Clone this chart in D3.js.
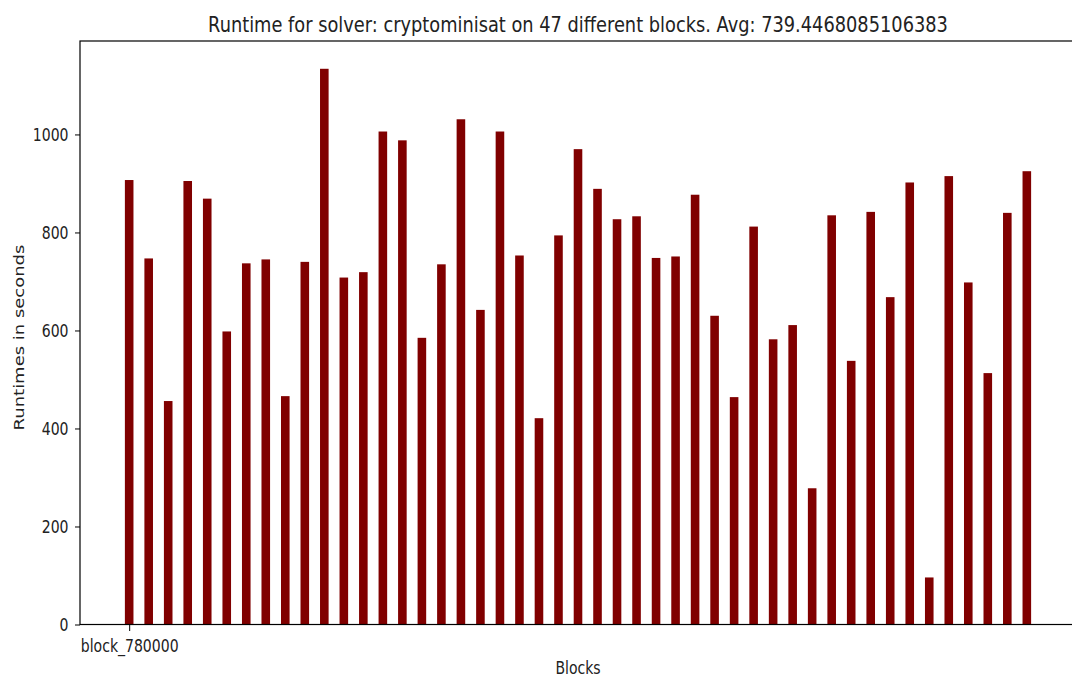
<!DOCTYPE html>
<html>
<head>
<meta charset="utf-8">
<script src="https://cdn.jsdelivr.net/npm/d3@7"></script>
<style>
  html, body { margin: 0; padding: 0; background: #fff; }
  svg { display: block; font-family: "DejaVu Sans", sans-serif; }
</style>
</head>
<body>
<svg id="chart" width="1072" height="677"></svg>
<script>
const titleText = "Runtime for solver: cryptominisat on 47 different blocks. Avg: 739.4468085106383";
const xLabel = "Blocks";
const yLabel = "Runtimes in seconds";
const tickLabels = ["block_780000"];
const tickIndices = [0];
const yTicks = [0, 200, 400, 600, 800, 1000];
const runtimes = [
  907, 747, 456, 905, 869, 598, 737, 745, 466, 740,
  1134, 708, 719, 1006, 988, 585, 735, 1031, 642, 1006,
  753, 421, 794, 970, 889, 827, 833, 748, 751, 877,
  630, 464, 812, 582, 611, 278, 835, 538, 842, 668,
  902, 96, 915, 698, 513, 840, 925
];
const indices = runtimes.map((d, i) => i);

const svg = d3.select("#chart");
const mLeft = 80, mRight = 1076, mTop = 41, mBottom = 624.5;
const sx = 0.78;          // horizontal squeeze of glyphs
const fs = 18;            // label/tick font size
const barW = 0.44;
const n = runtimes.length;
const pad = 0.05 * ((n - 1) + 0.4);
const x = d3.scaleLinear()
  .domain([-0.2 - pad, (n - 1) + 0.2 + pad])
  .range([mLeft, mRight]);
const yMax = d3.max(runtimes) * 1.05;
const y = d3.scaleLinear().domain([0, yMax]).range([mBottom, mTop]);

// bars
svg.append("g").selectAll("rect").data(indices).join("rect")
  .attr("x", i => x(i - barW / 2))
  .attr("width", i => x(i + barW / 2) - x(i - barW / 2))
  .attr("y", i => y(runtimes[i]))
  .attr("height", i => y(0) - y(runtimes[i]))
  .attr("fill", "#800000");

// frame
svg.append("rect")
  .attr("x", mLeft).attr("y", mTop)
  .attr("width", mRight - mLeft).attr("height", mBottom - mTop)
  .attr("fill", "none").attr("stroke", "#000").attr("stroke-width", 1.2);

// y axis
const yAxis = d3.axisLeft(y).tickValues(yTicks).tickSize(5).tickFormat(d3.format("d"));
const gy = svg.append("g").attr("transform", `translate(${mLeft},0)`).call(yAxis);
gy.select(".domain").remove();
gy.selectAll("line").attr("stroke", "#000").attr("stroke-width", 1);
gy.selectAll("text")
  .attr("font-size", fs).attr("fill", "#222").attr("font-family", "DejaVu Sans")
  .attr("x", 0)
  .attr("transform", `translate(-11.5,0) scale(${sx},1)`);

// x axis
const xAxis = d3.axisBottom(x).tickValues(tickIndices).tickSize(6.5)
  .tickFormat((d, k) => tickLabels[k]);
const gx = svg.append("g").attr("transform", `translate(0,${mBottom})`).call(xAxis);
gx.select(".domain").remove();
gx.selectAll("line").attr("stroke", "#000").attr("stroke-width", 1);
gx.selectAll("text")
  .attr("font-size", fs).attr("fill", "#222").attr("font-family", "DejaVu Sans")
  .attr("y", 15)
  .attr("transform", `scale(${sx},1)`);

// title (squeezed to its measured width)
const title = svg.append("text")
  .attr("text-anchor", "middle")
  .attr("font-size", 21.6).attr("fill", "#222")
  .text(titleText);
const tw = title.node().getComputedTextLength();
title.attr("transform", `translate(578,31.5) scale(${740 / tw},1)`);

// x label
svg.append("text")
  .attr("transform", `translate(578,674) scale(${sx},1)`)
  .attr("text-anchor", "middle")
  .attr("font-size", fs).attr("fill", "#222")
  .text(xLabel);

// y label
svg.append("text")
  .attr("transform", `translate(24,337.5) scale(${sx},1) rotate(-90)`)
  .attr("text-anchor", "middle")
  .attr("font-size", fs).attr("fill", "#222")
  .text(yLabel);
</script>
</body>
</html>
